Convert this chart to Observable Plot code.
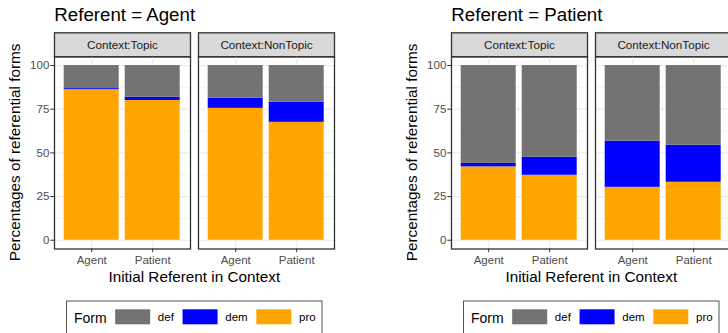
<!DOCTYPE html>
<html><head><meta charset="utf-8">
<script src="https://cdn.jsdelivr.net/npm/d3@7"></script>
<script src="https://cdn.jsdelivr.net/npm/@observablehq/plot@0.6"></script>
<style>
html,body{margin:0;padding:0;background:#fff;}
#wrap{position:relative;width:728px;height:333px;overflow:hidden;background:#fff;}
</style></head><body><div id="wrap"></div>
<script>
const forms = ["def", "dem", "pro"];
const formColors = ["#737373", "#0000ff", "#ffa500"];
const stackOrder = ["pro", "dem", "def"];
const initials = ["Agent", "Patient"];
const contexts = ["Context:Topic", "Context:NonTopic"];
const yTicks = [0, 25, 50, 75, 100];
const yMinor = [12.5, 37.5, 62.5, 87.5];
// each series: [Topic/Agent, Topic/Patient, NonTopic/Agent, NonTopic/Patient]
const agentPro = [86.2, 80.0, 75.5, 67.5];
const agentDem = [0.6, 1.9, 5.8, 11.5];
const agentDef = [13.2, 18.1, 18.7, 21.0];
const patientPro = [42.0, 37.2, 30.3, 33.2];
const patientDem = [2.0, 10.3, 26.4, 21.2];
const patientDef = [56.0, 52.5, 43.3, 45.6];
const panelTitles = ["Referent = Agent", "Referent = Patient"];
const xTitle = "Initial Referent in Context";
const yTitle = "Percentages of referential forms";
const legendTitle = "Form";

function buildRows(pro, dem, def) {
  const rows = [];
  for (let i = 0; i < 4; i++) {
    const context = contexts[Math.floor(i / 2)], initial = initials[i % 2];
    rows.push({context, initial, form: "pro", value: pro[i]});
    rows.push({context, initial, form: "dem", value: dem[i]});
    rows.push({context, initial, form: "def", value: def[i]});
  }
  return rows;
}

const FONT = "'Liberation Sans', Arial, Helvetica, sans-serif";
const wrap = document.getElementById("wrap");

function chart(rows, title, left) {
  const W = 397, H = 333, top = 56.3, bottom = 248.5, ml = 54.3, right = 334.3;
  const svg = Plot.plot({
    width: W, height: H,
    marginTop: top, marginBottom: H - bottom, marginLeft: ml, marginRight: W - right,
    style: {fontFamily: FONT, fontSize: "11.5px", background: "transparent", overflow: "visible"},
    fx: {domain: contexts, paddingInner: 8 / 144, paddingOuter: 0, label: null},
    x: {domain: initials, paddingInner: 0.1, paddingOuter: 0.15, label: null},
    y: {domain: [-5, 105], label: null},
    color: {domain: forms, range: formColors},
    marks: [
      Plot.frame({fill: "white", stroke: null}),
      Plot.frame({fill: "#d9d9d9", stroke: "#333333", strokeWidth: 1.3, insetTop: -24, insetBottom: bottom - top}),
      Plot.gridY(yMinor, {stroke: "#ebebeb", strokeOpacity: 1, strokeWidth: 0.6}),
      Plot.gridY(yTicks, {stroke: "#ebebeb", strokeOpacity: 1, strokeWidth: 1.2}),
      Plot.gridX({stroke: "#ebebeb", strokeOpacity: 1, strokeWidth: 1.2}),
      Plot.barY(rows, {fx: "context", x: "initial", y: "value", fill: "form", order: stackOrder}),
      Plot.frame({stroke: "#333333", strokeWidth: 1.3}),
      Plot.axisY(yTicks, {tickSize: 3.7, tickPadding: 1.5, stroke: "#333333", fill: "#4d4d4d", label: null}),
      Plot.axisX({tickSize: 3.7, tickPadding: 3.5, stroke: "#333333", fill: "#4d4d4d", label: null}),
      Plot.axisFx({anchor: "top", tickSize: 0, tickPadding: 7.5, fill: "#1a1a1a", fontSize: 11.7, label: null})
    ]
  });
  svg.style.position = "absolute";
  svg.style.left = left + "px";
  svg.style.top = "0px";
  wrap.appendChild(svg);
  const s = d3.select(svg);
  const g = s.append("g").attr("font-family", FONT).attr("text-anchor", "start");
  g.append("text").attr("x", 54.3).attr("y", 21).attr("font-size", 18.7).attr("fill", "#000").text(title);
  g.append("text").attr("transform", "translate(19.5,152.4) rotate(-90)").attr("text-anchor", "middle")
    .attr("font-size", 15.3).attr("fill", "#000").text(yTitle);
  g.append("text").attr("x", (ml + right) / 2).attr("y", 281.5).attr("text-anchor", "middle")
    .attr("font-size", 15.3).attr("fill", "#000").text(xTitle);
  // legend
  const lg = g.append("g");
  lg.append("rect").attr("x", 66.5).attr("y", 301).attr("width", 255.5).attr("height", 40)
    .attr("fill", "white").attr("stroke", "#555").attr("stroke-width", 1);
  const lt = lg.append("text").attr("x", 74).attr("y", 323).attr("font-size", 14).attr("fill", "#000").text(legendTitle);
  let x = 74 + lt.node().getComputedTextLength() + 8.5;
  forms.forEach((f, i) => {
    lg.append("rect").attr("x", x).attr("y", 309.3).attr("width", 35).attr("height", 15).attr("fill", formColors[i]);
    x += 35 + 7.7;
    const t = lg.append("text").attr("x", x).attr("y", 321).attr("font-size", 11.5).attr("fill", "#000").text(f);
    x += t.node().getComputedTextLength() + 8.7;
  });
}

chart(buildRows(agentPro, agentDem, agentDef), panelTitles[0], 0);
chart(buildRows(patientPro, patientDem, patientDef), panelTitles[1], 397.3);
</script></body></html>
